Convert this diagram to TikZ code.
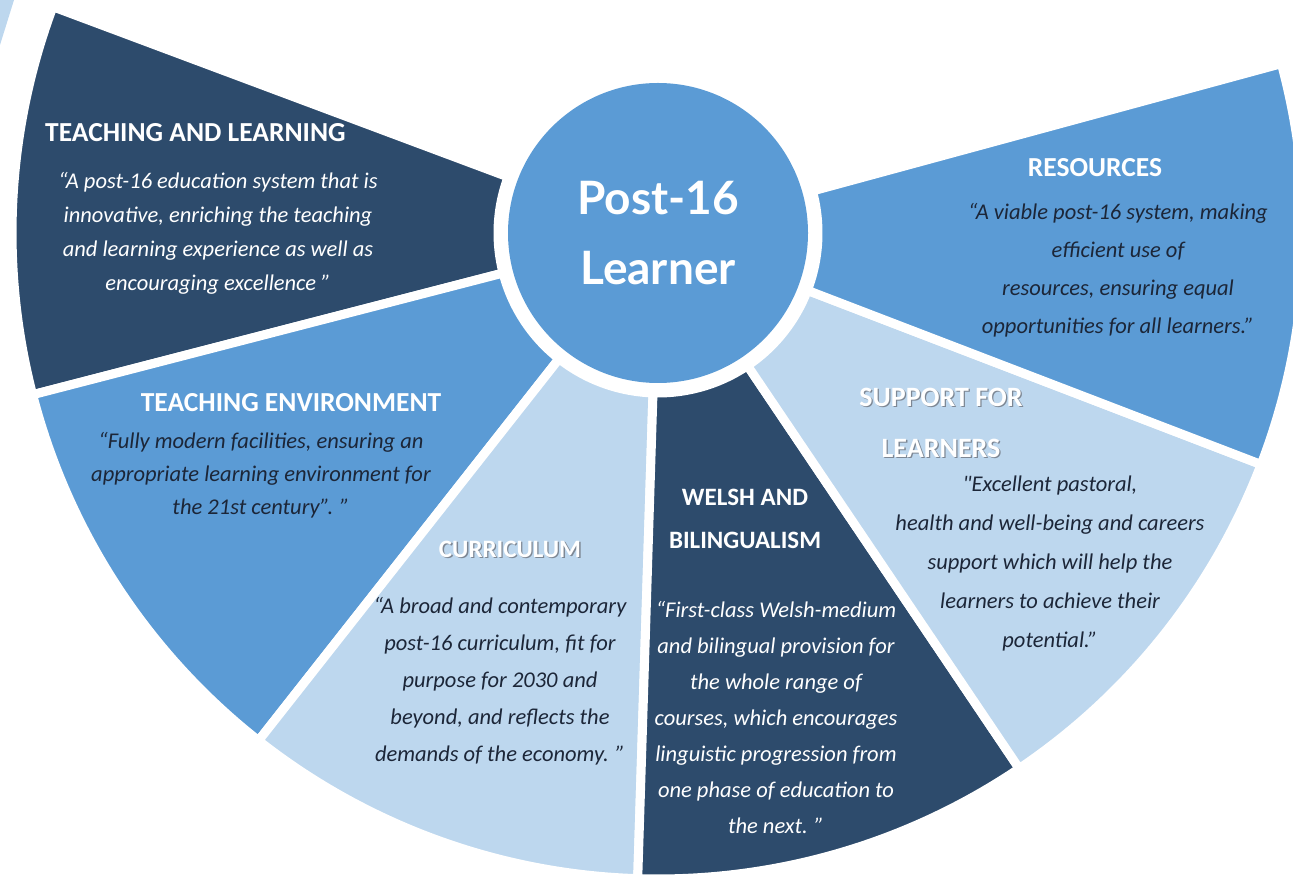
\documentclass[tikz,border=0pt]{standalone}
\usepackage{fontspec}
\setmainfont{Carlito}[Ligatures=TeXOff]
\newfontfamily\hubfont{Lato}
\definecolor{navyseg}{RGB}{45,75,108}
\definecolor{midseg}{HTML}{5B9BD5}
\definecolor{paleseg}{HTML}{BDD7EE}
\definecolor{quoteink}{RGB}{28,38,56}
\definecolor{shadowgray}{RGB}{125,135,148}
\newcommand{\shadowed}[1]{\leavevmode\rlap{\kern1.3pt\raisebox{-1.3pt}{\textcolor{shadowgray}{#1}}}#1}

\begin{document}
\begin{tikzpicture}[x=1pt,y=1pt]
\tikzstyle{seg}=[draw=white,line width=9pt]
\tikzstyle{headtext}=[text=white,inner sep=0pt,font=\fontsize{27.5}{30}\selectfont\bfseries]
\tikzstyle{quotetext}=[align=center,inner sep=0pt,font=\fontsize{22.5}{34}\selectfont\itshape]
\useasboundingbox (0,0) rectangle (1293,876);
% corner piece of the next figure
\fill[paleseg] (0,876) -- (14,876) -- (0,831) -- cycle;
% six segments round the hub
\begin{scope}[shift={(658,643)}]
\filldraw[seg,fill=navyseg] (159.5:160) -- (159.5:646) arc[start angle=159.5,end angle=194.5,radius=646] -- (194.5:160) arc[start angle=194.5,end angle=159.5,radius=160] -- cycle;
\filldraw[seg,fill=midseg] (194.5:160) -- (194.5:646) arc[start angle=194.5,end angle=231.8,radius=646] -- (231.8:160) arc[start angle=231.8,end angle=194.5,radius=160] -- cycle;
\filldraw[seg,fill=paleseg] (231.8:160) -- (231.8:646) arc[start angle=231.8,end angle=268.2,radius=646] -- (268.2:160) arc[start angle=268.2,end angle=231.8,radius=160] -- cycle;
\filldraw[seg,fill=navyseg] (268.2:160) -- (268.2:646) arc[start angle=268.2,end angle=304,radius=646] -- (304:160) arc[start angle=304,end angle=268.2,radius=160] -- cycle;
\filldraw[seg,fill=paleseg] (304:160) -- (304:646) arc[start angle=304,end angle=339,radius=646] -- (339:160) arc[start angle=339,end angle=304,radius=160] -- cycle;
\filldraw[seg,fill=midseg] (339:160) -- (339:646) arc[start angle=339,end angle=375.2,radius=646] -- (375.2:160) arc[start angle=375.2,end angle=339,radius=160] -- cycle;
\end{scope}
\node[circle,fill=midseg,minimum size=300pt,inner sep=0pt,text=white,align=center,font=\hubfont\bfseries\fontsize{46}{70}\selectfont] (hub) at (658,643) {Post-16\\Learner};
% teaching and learning
\node[headtext,anchor=west] (tl_head) at (45,743) {TEACHING AND LEARNING};
\node[quotetext,text=white] (tl_quote) at (218,643) {“A post-16 education system that is\\innovative, enriching the teaching\\and learning experience as well as\\encouraging excellence ”};
% teaching environment
\node[headtext] (te_head) at (291,473) {TEACHING ENVIRONMENT};
\node[quotetext,text=quoteink,font=\fontsize{22.5}{33}\selectfont\itshape] (te_quote) at (261,401) {“Fully modern facilities, ensuring an\\appropriate learning environment for\\the 21st century”. ”};
% curriculum
\node[headtext,font=\fontsize{25}{30}\selectfont\bfseries] (cu_head) at (510,326) {\shadowed{CURRICULUM}};
\node[quotetext,text=quoteink,font=\fontsize{22.5}{37}\selectfont\itshape] (cu_quote) at (500,195) {“A broad and contemporary\\post-16 curriculum, fit for\\purpose for 2030 and\\beyond, and reflects the\\demands of the economy. ”};
% welsh and bilingualism
\node[headtext,align=center,font=\fontsize{25}{43}\selectfont\bfseries] (we_head) at (745,357.5) {WELSH AND\\BILINGUALISM};
\node[quotetext,text=white,font=\fontsize{22.5}{36}\selectfont\itshape] (we_quote) at (776,158.5) {“First-class Welsh-medium\\and bilingual provision for\\the whole range of\\courses, which encourages\\linguistic progression from\\one phase of education to\\the next. ”};
% support for learners
\node[headtext,align=center,font=\fontsize{28}{51}\selectfont\bfseries] (su_head) at (941,452.5) {\shadowed{SUPPORT FOR}\\\shadowed{LEARNERS}};
\node[quotetext,text=quoteink,font=\fontsize{22.5}{39}\selectfont\itshape] (su_quote) at (1050,312.5) {"Excellent pastoral,\\health and well-being and careers\\support which will help the\\learners to achieve their\\potential.”};
% resources
\node[headtext] (re_head) at (1095,708) {RESOURCES};
\node[quotetext,text=quoteink,font=\fontsize{22.5}{38}\selectfont\itshape] (re_quote) at (1118,605.5) {“A viable post-16 system, making\\efficient use of\\resources, ensuring equal\\opportunities for all learners.”};
\end{tikzpicture}
\end{document}
